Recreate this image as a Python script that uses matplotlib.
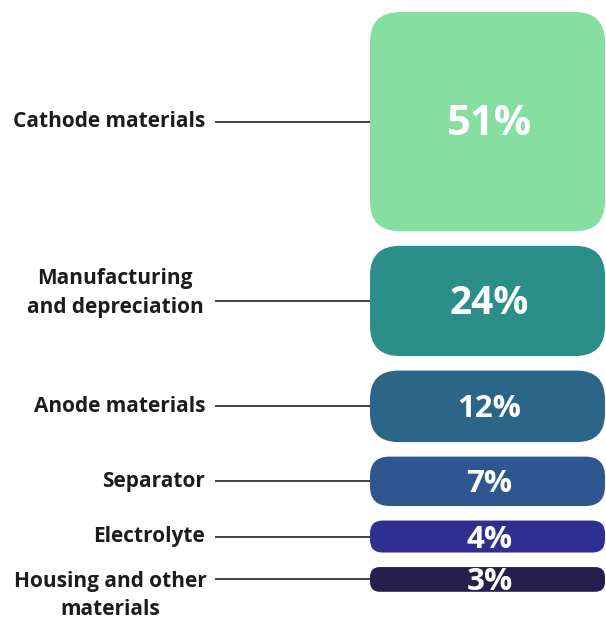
import numpy as np
import matplotlib.pyplot as plt
from matplotlib.patches import FancyBboxPatch

# Cost shares
labels = ["Cathode materials", "Manufacturing\nand depreciation", "Anode materials",
          "Separator", "Electrolyte", "Housing and other\nmaterials"]
shares = [51, 24, 12, 7, 4, 3]
colors = ["#86DFA0", "#2B8E88", "#2B6689", "#2D578E", "#2E2F90", "#271F4B"]
pct_sizes = [30, 28, 22.5, 22.5, 22.5, 22.5]

W, H = 606, 622
fig = plt.figure(figsize=(W / 100, H / 100), dpi=100)
ax = fig.add_axes([0, 0, 1, 1])
ax.set_xlim(0, W)
ax.set_ylim(H, 0)
ax.axis("off")

# box height: linear in share, but small boxes grow with sqrt so labels fit
v = np.array(shares, dtype=float)
heights = np.maximum(4.3 * v, 27 * np.sqrt(v) - 22)
gap = 14.5
tops = 12 + np.concatenate([[0], np.cumsum(heights[:-1] + gap)])

box_x0, box_x1 = 370, 605
label_x = 205
font = dict(family="Open Sans", fontweight="bold")

for i, (lab, s, c, fs) in enumerate(zip(labels, shares, colors, pct_sizes)):
    top, h = tops[i], heights[i]
    yc = top + h / 2
    rad = min(30, h * 0.4)
    box = FancyBboxPatch((box_x0, top), box_x1 - box_x0, h,
                         boxstyle=f"round,pad=0,rounding_size={rad}",
                         fc=c, ec="none", zorder=2)
    ax.add_patch(box)
    t = ax.text((box_x0 + box_x1) / 2 + 2, yc + 3, f"{s}%", color="white",
                fontsize=fs, ha="center", va="center", zorder=3, **font)
    t.set_clip_path(box)

    # connector line and category label
    ax.plot([216, box_x0], [yc, yc], color="#404040", lw=1.4, zorder=1)
    if "\n" not in lab:
        ax.text(label_x, yc, lab, fontsize=15, color="#1c1c1c",
                ha="right", va="center", **font)
    elif i == len(labels) - 1:
        # last label hangs below its connector
        ax.text(110, yc - 8, lab, fontsize=15, color="#1c1c1c",
                ha="center", va="top", linespacing=1.38, **font)
    else:
        ax.text(115, yc - 8, lab, fontsize=15, color="#1c1c1c",
                ha="center", va="center", linespacing=1.45, **font)

fig.savefig("out.png", dpi=100)
